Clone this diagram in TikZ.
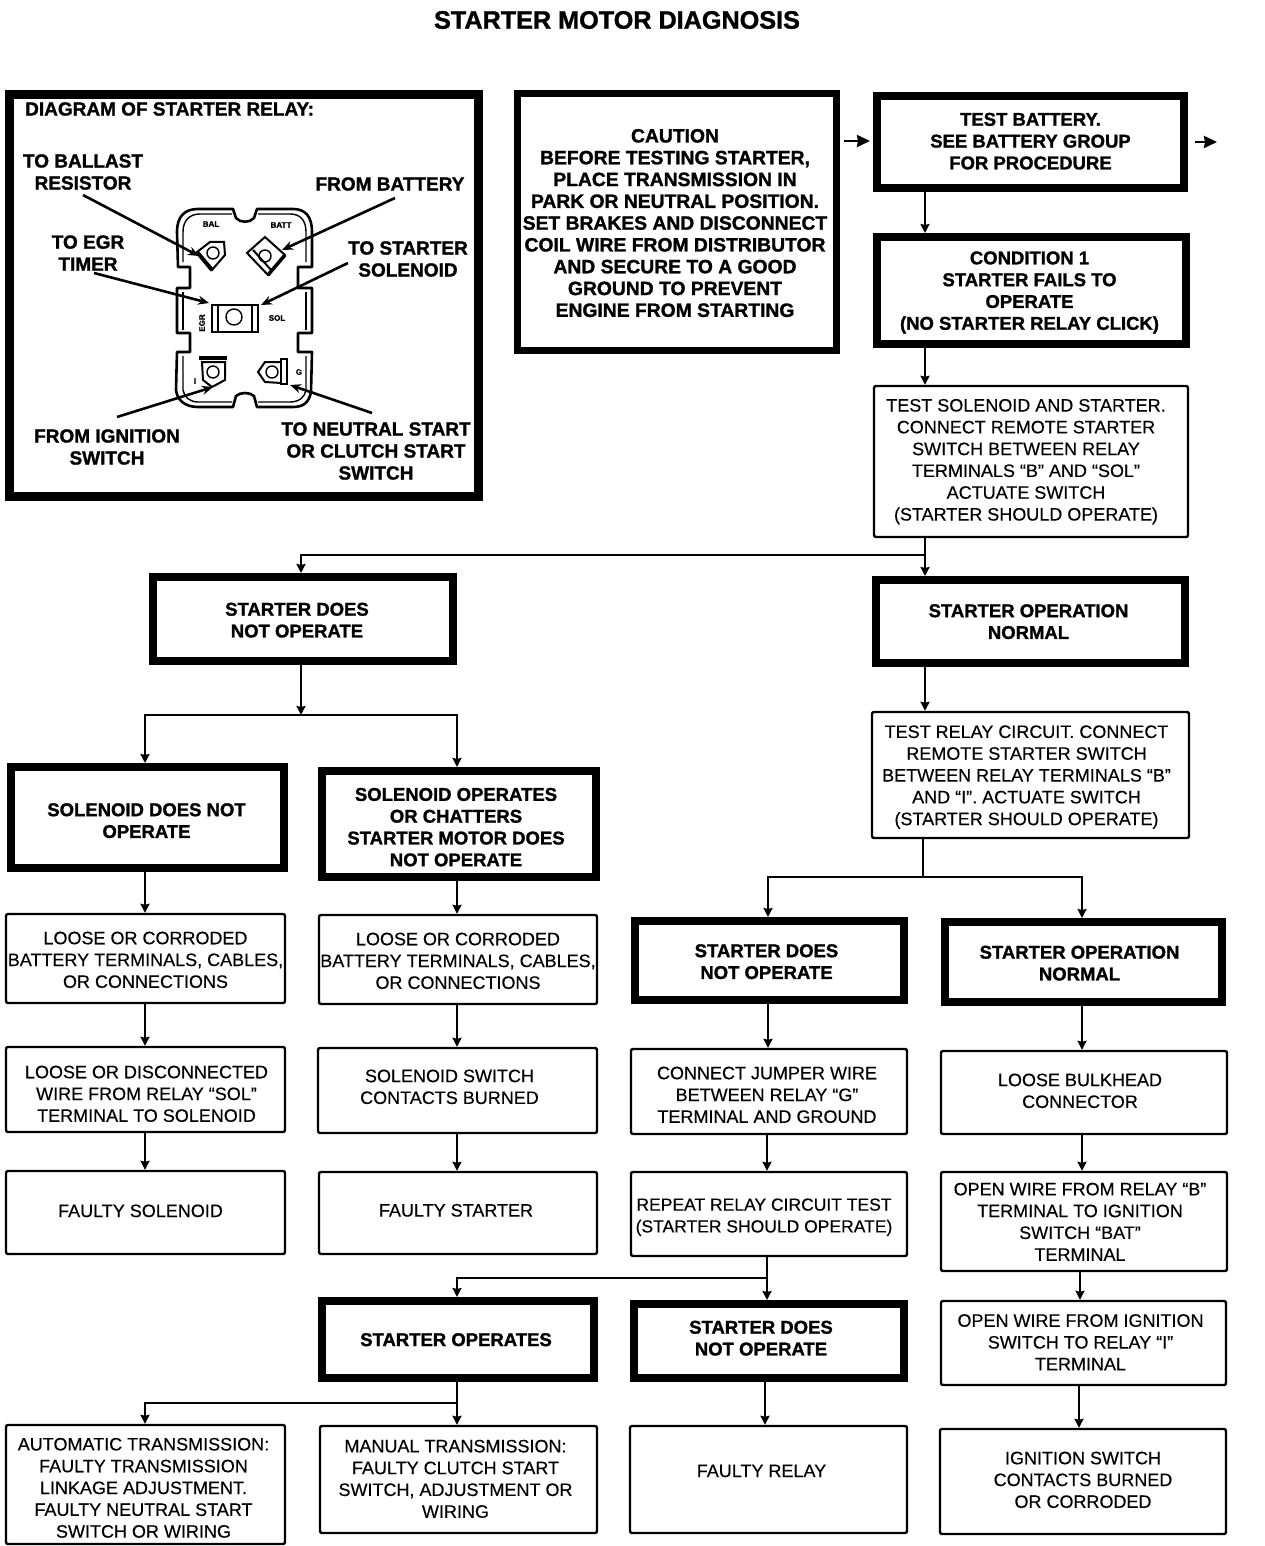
\documentclass[tikz,border=0pt]{standalone}
\usepackage{fontspec}
\setmainfont[FakeBold=0.35,BoldFont={Liberation Sans Bold},BoldFeatures={FakeBold=1.3}]{Liberation Sans}
\usetikzlibrary{arrows.meta}
\newcommand{\tx}[3]{\raisebox{\dimexpr-#2pt-6.5pt\relax}[0pt][0pt]{\makebox[0pt]{\kern#1pt\kern#1pt\begin{tabular}{@{}c@{}}#3\end{tabular}}}}
\tikzset{
  reg/.style={font=\fontsize{18}{21.8}\selectfont},
  hvy/.style={font=\fontsize{18.5}{21.8}\selectfont\bfseries},
  thickbox/.style={draw=black,line width=8pt,fill=white,inner sep=0pt,hvy},
  thinbox/.style={draw=black,line width=2.4pt,rounded corners=2pt,fill=white,inner sep=0pt,reg},
  conn/.style={line width=2.4pt,-{Stealth[length=9pt,width=9pt,inset=1pt]}},
  sidearrow/.style={line width=2.6pt,-{Stealth[length=13pt,width=12pt,inset=1pt]}},
  plain/.style={line width=2.4pt},
  lab/.style={inner sep=0pt,align=center,font=\fontsize{19}{22}\selectfont\bfseries},
  tiny/.style={inner sep=0pt,font=\fontsize{8}{9}\selectfont\bfseries},
  pointer/.style={line width=2.6pt,-{Stealth[length=11pt,width=9pt]}},
  outline/.style={line width=2.6pt,line join=round},
  fine/.style={line width=1.4pt},
  strip/.style={line width=1.5pt,fill=white},
  lug/.style={draw=black,line width=2pt,fill=white},
}
\begin{document}
\begin{tikzpicture}[x=1pt,y=-1pt]
\useasboundingbox (0,0) rectangle (1264,1546);
\fill[white] (0,0) rectangle (1264,1546);

\node[inner sep=0pt,font=\fontsize{25.2}{28}\selectfont\bfseries] (title) at (617,20) {STARTER MOTOR DIAGNOSIS};

% --- relay diagram frame ---
\node[draw=black,line width=9pt,fill=white,inner sep=0pt,minimum width=469pt,minimum height=402pt] (relay) at (244,295.5) {};
\node[lab,anchor=west] (rtitle) at (25,109) {DIAGRAM OF STARTER RELAY:};
\node[lab] (lbal) at (83,172) {TO BALLAST\\RESISTOR};
\node[lab] (lbat) at (390,184) {FROM BATTERY};
\node[lab] (legr) at (88,253) {TO EGR\\TIMER};
\node[lab] (lsol) at (408,259) {TO STARTER\\SOLENOID};
\node[lab] (lign) at (107,447) {FROM IGNITION\\SWITCH};
\node[lab] (lneu) at (376,451) {TO NEUTRAL START\\OR CLUTCH START\\SWITCH};

% relay body
\draw[outline] (198,209) -- (233,209) -- (236,218) .. controls (240,223) and (250,223) .. (254,218) -- (257,209) -- (293,209)
  .. controls (305,209) and (312,216) .. (312,232) -- (312,267) -- (298,267) -- (298,288) -- (312,288) -- (312,333) -- (298,333) -- (298,352) -- (312,352) -- (311,392)
  .. controls (309,402) and (304,407) .. (293,407) -- (257,407) -- (254,396) .. controls (250,392) and (240,392) .. (236,396) -- (233,407) -- (198,407)
  .. controls (185,407) and (177,400) .. (176,390) -- (177,352) -- (190,352) -- (190,333) -- (177,333) -- (177,288) -- (190,288) -- (190,267) -- (178,267) -- (177,232)
  .. controls (177,216) and (185,209) .. (198,209) -- cycle;
\draw[fine] (183,262) -- (183,232) .. controls (183,220) and (190,214) .. (200,214) -- (232,214);
\draw[fine] (258,214) -- (290,214) .. controls (300,214) and (306,220) .. (306,232) -- (306,262);
\draw[fine] (183,292) -- (183,330);
\draw[fine] (306,292) -- (306,330);
\draw[fine] (183,356) -- (183,390) .. controls (184,397) and (190,402) .. (198,402) -- (232,402);
\draw[fine] (258,402) -- (290,402) .. controls (299,402) and (305,397) .. (306,390) -- (306,356);

% BAL terminal
\draw[lug] (197,252) -- (210,242) -- (224,242) -- (225,255) -- (212,270) -- cycle;
\draw[line width=4pt] (197,252) -- (212,270);
\draw[fine] (213,253) circle[radius=6pt];
% BATT terminal
\draw[lug] (247,253) -- (265,237) -- (285,255) -- (268,275) -- cycle;
\draw[line width=2pt] (253,250) -- (272,271);
\draw[line width=3.5pt] (285,255) -- (268,275);
\draw[fine] (265,256) circle[radius=6pt];
% centre terminal
\draw[lug] (212,305) rectangle (258,332);
\draw[strip,fill=white,line width=2.5pt] (212,305) rectangle (218,332);
\draw[strip,fill=white,line width=2.5pt] (252,305) rectangle (258,332);
\draw[fine] (234,317) circle[radius=8pt];
% lower left terminal
\draw[lug] (202,362) -- (225,362) -- (225,380) -- (212,387) -- (203,380) -- cycle;
\draw[line width=4.5pt] (199,358) -- (227,358);
\draw[fine] (213,372) circle[radius=6pt];
% lower right terminal
\draw[lug] (281,362) -- (265,362) -- (258,372) -- (265,382) -- (281,383) -- cycle;
\draw[strip,line width=2.5pt] (281,359) rectangle (287,384);
\draw[fine] (272,372) circle[radius=6pt];

\node[tiny] (tbal) at (211,224) {BAL};
\node[tiny] (tbat) at (281,225) {BATT};
\node[tiny,rotate=90] (tegr) at (202,323) {EGR};
\node[tiny] (tsol) at (277,318) {SOL};
\node[tiny] (ti) at (195,381) {I};
\node[tiny] (tg) at (299,372) {G};

\coordinate (pbal) at (83,195);
\coordinate (ebal) at (199,256);
\coordinate (pbat) at (395,198);
\coordinate (ebat) at (282,250);
\coordinate (pegr) at (94,273);
\coordinate (eegr) at (209,303);
\coordinate (psol) at (348,263);
\coordinate (esol) at (261,305);
\coordinate (pign) at (117,417);
\coordinate (eign) at (213,387);
\coordinate (pneu) at (372,413);
\coordinate (eneu) at (290,385);
\draw[pointer] (pbal) -- (ebal);
\draw[pointer] (pbat) -- (ebat);
\draw[pointer] (pegr) -- (eegr);
\draw[pointer] (psol) -- (esol);
\draw[pointer] (pign) -- (eign);
\draw[pointer] (pneu) -- (eneu);

% --- flow boxes ---
\node[thickbox,line width=7pt,minimum width=319pt,minimum height=257pt,font=\fontsize{19.3}{21.8}\selectfont\bfseries] (caution) at (677,222) {\tx{-2}{2}{CAUTION\\BEFORE TESTING STARTER,\\PLACE TRANSMISSION IN\\PARK OR NEUTRAL POSITION.\\SET BRAKES AND DISCONNECT\\COIL WIRE FROM DISTRIBUTOR\\AND SECURE TO A GOOD\\GROUND TO PREVENT\\ENGINE FROM STARTING}};
\node[thickbox,minimum width=307pt,minimum height=92pt] (battery) at (1030.5,142) {\tx{0}{-1}{TEST BATTERY.\\SEE BATTERY GROUP\\FOR PROCEDURE}};
\node[thickbox,minimum width=309pt,minimum height=107pt] (cond) at (1031.5,290.5) {\tx{-2}{0}{CONDITION 1\\STARTER FAILS TO\\OPERATE\\(NO STARTER RELAY CLICK)}};
\node[thinbox,minimum width=314pt,minimum height=151pt] (testsol) at (1031,461.5) {\tx{-5}{-2}{TEST SOLENOID AND STARTER.\\CONNECT REMOTE STARTER\\SWITCH BETWEEN RELAY\\TERMINALS “B” AND “SOL”\\ACTUATE SWITCH\\(STARTER SHOULD OPERATE)}};
\node[thickbox,minimum width=300pt,minimum height=84pt] (sdno) at (303,619) {\tx{-6}{1}{STARTER DOES\\NOT OPERATE}};
\node[thickbox,minimum width=309pt,minimum height=83pt] (son) at (1030.5,621.5) {\tx{-2}{0}{STARTER OPERATION\\NORMAL}};
\node[thinbox,minimum width=317pt,minimum height=126pt] (testrel) at (1030.5,775) {\tx{-4}{0}{TEST RELAY CIRCUIT. CONNECT\\REMOTE STARTER SWITCH\\BETWEEN RELAY TERMINALS “B”\\AND “I”. ACTUATE SWITCH\\(STARTER SHOULD OPERATE)}};
\node[thickbox,minimum width=273pt,minimum height=101pt] (soldn) at (147.5,817.5) {\tx{-1}{3}{SOLENOID DOES NOT\\OPERATE}};
\node[thickbox,minimum width=274pt,minimum height=106pt] (solop) at (459,824) {\tx{-3}{3}{SOLENOID OPERATES\\OR CHATTERS\\STARTER MOTOR DOES\\NOT OPERATE}};
\node[thickbox,minimum width=269pt,minimum height=79pt] (sdnob) at (769.5,960.5) {\tx{-3}{1}{STARTER DOES\\NOT OPERATE}};
\node[thickbox,minimum width=277pt,minimum height=80pt] (sonb) at (1083.5,962) {\tx{-4}{1}{STARTER OPERATION\\NORMAL}};

\node[thinbox,minimum width=279pt,minimum height=89pt] (a1) at (145.5,958.5) {\tx{0}{1}{LOOSE OR CORRODED\\BATTERY TERMINALS, CABLES,\\OR CONNECTIONS}};
\node[thinbox,minimum width=278pt,minimum height=89pt] (b1) at (458,959.5) {\tx{0}{1}{LOOSE OR CORRODED\\BATTERY TERMINALS, CABLES,\\OR CONNECTIONS}};
\node[thinbox,minimum width=279pt,minimum height=85pt] (a2) at (145.5,1089.5) {\tx{1}{4}{LOOSE OR DISCONNECTED\\WIRE FROM RELAY “SOL”\\TERMINAL TO SOLENOID}};
\node[thinbox,minimum width=279pt,minimum height=85pt] (b2) at (457.5,1090.5) {\tx{-8}{-4}{SOLENOID SWITCH\\CONTACTS BURNED}};
\node[thinbox,minimum width=276pt,minimum height=85pt] (c2) at (769,1091.5) {\tx{-2}{3}{CONNECT JUMPER WIRE\\BETWEEN RELAY “G”\\TERMINAL AND GROUND}};
\node[thinbox,minimum width=286pt,minimum height=83pt] (d2) at (1084,1092.5) {\tx{-4}{-2}{LOOSE BULKHEAD\\CONNECTOR}};
\node[thinbox,minimum width=279pt,minimum height=83pt] (a3) at (145.5,1212.5) {\tx{-5}{-2}{FAULTY SOLENOID}};
\node[thinbox,minimum width=278pt,minimum height=82pt] (b3) at (458,1213) {\tx{-2}{-3}{FAULTY STARTER}};
\node[thinbox,minimum width=276pt,minimum height=84pt,font=\fontsize{17.5}{21.8}\selectfont] (c3) at (769,1214) {\tx{-5}{1}{REPEAT RELAY CIRCUIT TEST\\(STARTER SHOULD OPERATE)}};
\node[thinbox,minimum width=286pt,minimum height=99pt] (d3) at (1084,1221.5) {\tx{-4}{0}{OPEN WIRE FROM RELAY “B”\\TERMINAL TO IGNITION\\SWITCH “BAT”\\TERMINAL}};
\node[thickbox,minimum width=272pt,minimum height=77pt] (b4) at (458,1339.5) {\tx{-2}{0}{STARTER OPERATES}};
\node[thickbox,minimum width=270pt,minimum height=74pt] (c4) at (769,1341) {\tx{-8}{-3}{STARTER DOES\\NOT OPERATE}};
\node[thinbox,minimum width=285pt,minimum height=84pt] (d4) at (1083.5,1343) {\tx{-3}{-1}{OPEN WIRE FROM IGNITION\\SWITCH TO RELAY “I”\\TERMINAL}};
\node[thinbox,minimum width=279pt,minimum height=119pt] (a5) at (145.5,1484.5) {\tx{-2}{3}{AUTOMATIC TRANSMISSION:\\FAULTY TRANSMISSION\\LINKAGE ADJUSTMENT.\\FAULTY NEUTRAL START\\SWITCH OR WIRING}};
\node[thinbox,minimum width=277pt,minimum height=107pt] (b5) at (458.5,1479.5) {\tx{-3}{-1}{MANUAL TRANSMISSION:\\FAULTY CLUTCH START\\SWITCH, ADJUSTMENT OR\\WIRING}};
\node[thinbox,minimum width=277pt,minimum height=107pt] (c5) at (768.5,1479.5) {\tx{-7}{-9}{FAULTY RELAY}};
\node[thinbox,minimum width=286pt,minimum height=105pt] (d5) at (1083,1481.5) {\tx{0}{-2}{IGNITION SWITCH\\CONTACTS BURNED\\OR CORRODED}};

% --- connector guides ---
\coordinate (x925) at (925,0);
\coordinate (x923) at (923,0);
\coordinate (x301) at (301,0);
\coordinate (x145) at (145,0);
\coordinate (x457) at (457,0);
\coordinate (x768) at (768,0);
\coordinate (x1082) at (1082,0);
\coordinate (x767) at (767,0);
\coordinate (x765) at (765,0);
\coordinate (x1080) at (1080,0);
\coordinate (x1079) at (1079,0);

\coordinate (in1) at (844,141);
\coordinate (in2) at (870,141);
\coordinate (out1) at (1195,142);
\coordinate (out2) at (1217,142);
\draw[sidearrow] (in1) -- (in2);
\draw[sidearrow] (out1) -- (out2);

\draw[conn] (battery.south -| x925) -- (cond.north -| x925);
\draw[conn] (cond.south -| x925) -- (testsol.north -| x925);
\draw[conn] (testsol.south -| x925) -- (son.north -| x925);
\coordinate (bus1) at (925,555);
\draw[conn] (bus1) -- (bus1 -| x301) -- (sdno.north -| x301);
\draw[conn] (son.south -| x925) -- (testrel.north -| x925);

\coordinate (bus2) at (301,715);
\draw[conn] (sdno.south -| x301) -- (bus2);
\draw[conn] (bus2) -- (bus2 -| x145) -- (soldn.north -| x145);
\draw[conn] (bus2) -- (bus2 -| x457) -- (solop.north -| x457);

\coordinate (bus3) at (923,877);
\draw[plain] (testrel.south -| x923) -- (bus3);
\draw[conn] (bus3) -- (bus3 -| x768) -- (sdnob.north -| x768);
\draw[conn] (bus3) -- (bus3 -| x1082) -- (sonb.north -| x1082);

\draw[conn] (soldn.south -| x145) -- (a1.north -| x145);
\draw[conn] (a1.south -| x145) -- (a2.north -| x145);
\draw[conn] (a2.south -| x145) -- (a3.north -| x145);
\draw[conn] (solop.south -| x457) -- (b1.north -| x457);
\draw[conn] (b1.south -| x457) -- (b2.north -| x457);
\draw[conn] (b2.south -| x457) -- (b3.north -| x457);
\draw[conn] (sdnob.south -| x768) -- (c2.north -| x768);
\draw[conn] (c2.south -| x767) -- (c3.north -| x767);
\draw[conn] (c3.south -| x767) -- (c4.north -| x767);
\coordinate (bus4) at (767,1278);
\draw[conn] (bus4) -- (bus4 -| x457) -- (b4.north -| x457);
\draw[conn] (sonb.south -| x1082) -- (d2.north -| x1082);
\draw[conn] (d2.south -| x1082) -- (d3.north -| x1082);
\draw[conn] (d3.south -| x1080) -- (d4.north -| x1080);
\draw[conn] (d4.south -| x1079) -- (d5.north -| x1079);
\draw[conn] (c4.south -| x765) -- (c5.north -| x765);
\draw[conn] (b4.south -| x457) -- (b5.north -| x457);
\coordinate (bus5) at (457,1403);
\draw[conn] (bus5) -- (bus5 -| x145) -- (a5.north -| x145);
\end{tikzpicture}
\end{document}
